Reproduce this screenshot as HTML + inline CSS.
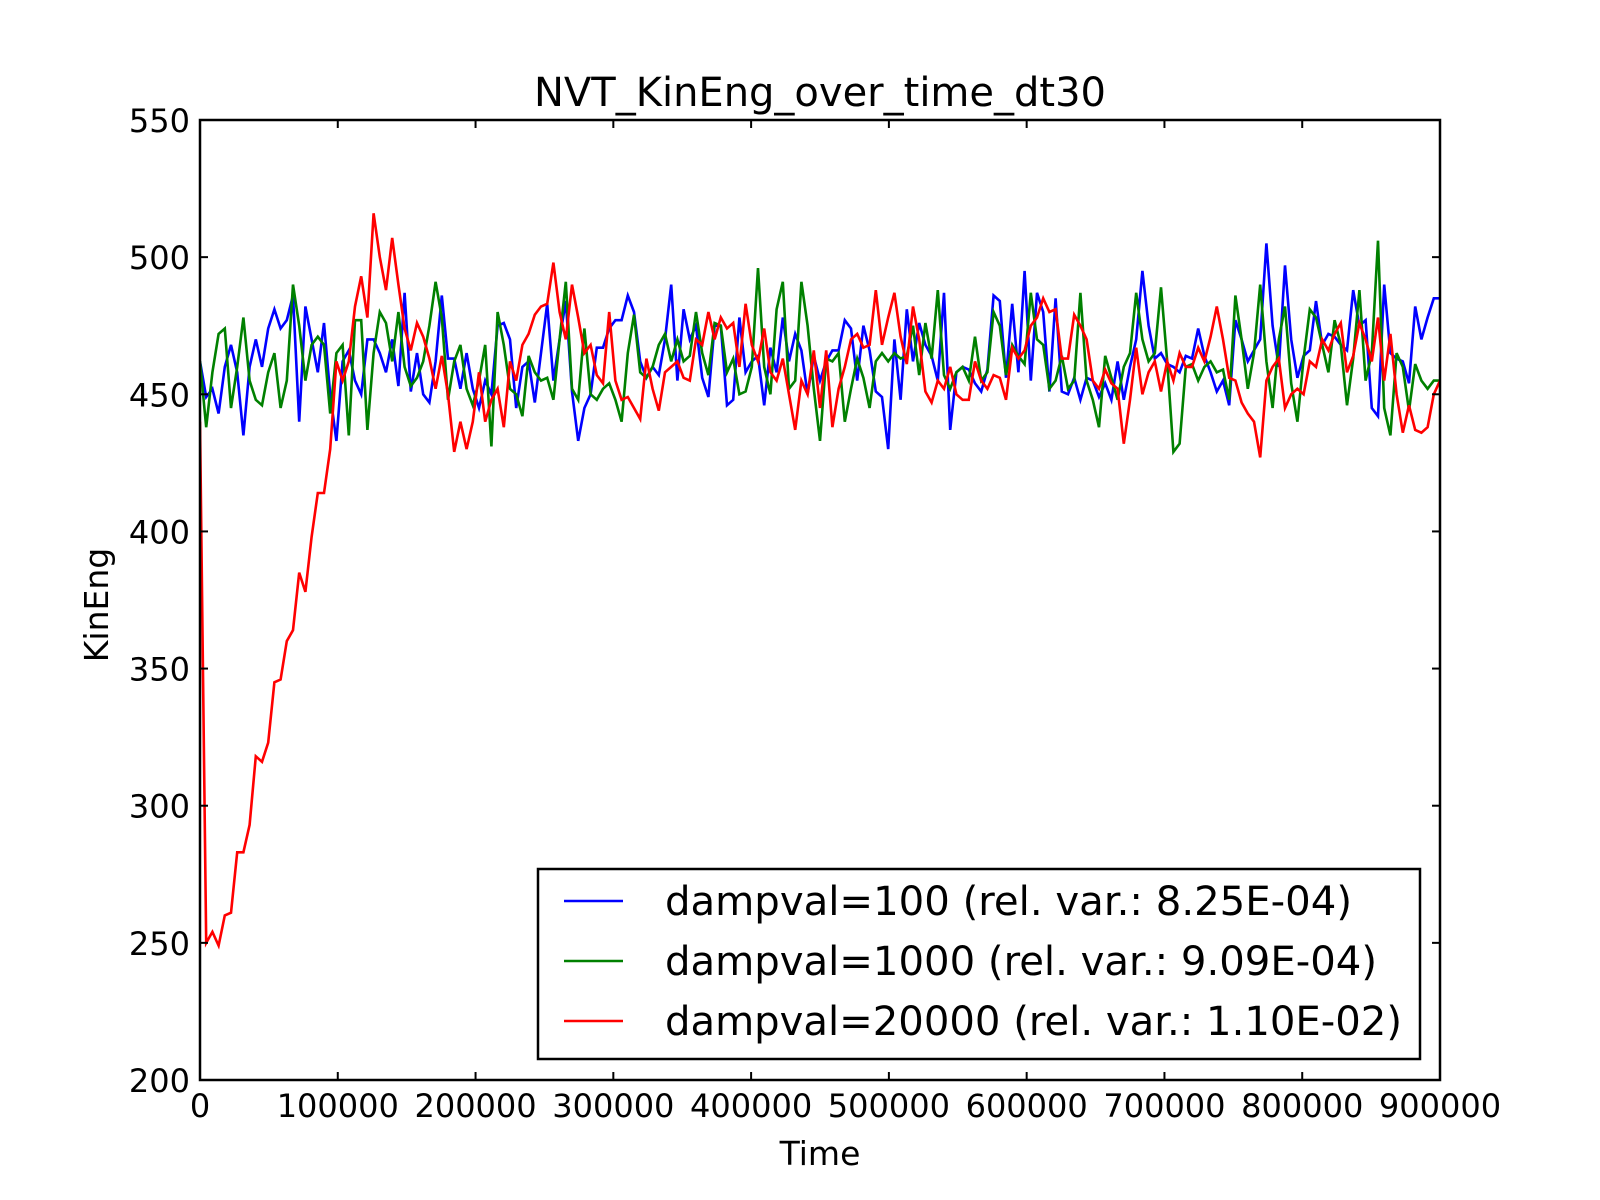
<!DOCTYPE html>
<html><head><meta charset="utf-8"><style>
html,body{margin:0;padding:0;background:#fff;}
svg{display:block;font-family:"DejaVu Sans","Liberation Sans",sans-serif;}
</style></head><body>
<svg id="chart" width="1600" height="1200" viewBox="0 0 1600 1200">
<rect x="0" y="0" width="1600" height="1200" fill="#fff"/>
<text x="820" y="106" font-size="40" text-anchor="middle">NVT_KinEng_over_time_dt30</text>
<g id="series" clip-path="url(#clip)"></g>
<defs><clipPath id="clip"><rect x="200" y="120" width="1240" height="960"/></clipPath></defs>
<g id="ticks"></g>
<rect x="200" y="120" width="1240" height="960" fill="none" stroke="#000" stroke-width="2.5"/>
<text x="820" y="1165" font-size="33" text-anchor="middle">Time</text>
<text x="0" y="0" font-size="33" text-anchor="middle" transform="translate(108,605) rotate(-90)">KinEng</text>
<g id="legend">
<rect x="538" y="869" width="882" height="190" fill="#fff" stroke="#000" stroke-width="2.5"/>
</g>
</svg>
<script>
const xTicks=[0,100000,200000,300000,400000,500000,600000,700000,800000,900000];
const yTicks=[200,250,300,350,400,450,500,550];
const step=4500;
const blue=[462,449,452,443,460,468,458,435,460,470,
460,474,481,474,477,486,440,482,470,458,
476,450,433,462,466,455,450,470,470,465,
458,470,453,487,451,465,450,447,462,486,
463,463,452,465,452,445,455,450,475,476,
470,445,460,462,447,465,483,455,470,484,
451,433,445,450,467,467,474,477,477,486,
480,462,456,460,457,470,490,455,481,470,
475,456,449,475,475,446,448,478,458,462,
464,446,467,458,478,462,472,466,450,464,
455,462,466,466,477,474,455,475,466,451,
449,430,470,448,481,462,476,468,464,455,
487,437,458,460,459,454,451,459,486,484,
456,483,458,495,455,487,480,451,485,451,
450,456,448,456,455,449,454,448,462,448,
460,470,495,475,463,465,461,460,458,464,
463,474,464,458,451,455,446,477,470,462,
466,470,505,475,460,497,470,456,464,466,
484,468,472,471,468,466,488,475,477,445,
442,490,465,463,462,454,482,470,478,485,485];
const green=[462,438,458,472,474,445,460,478,455,448,
446,458,465,445,455,490,475,455,468,471,
468,443,465,468,435,477,477,437,465,480,
476,462,480,460,453,456,462,475,491,478,
448,462,468,452,446,455,468,431,480,468,
452,450,442,464,458,455,456,448,470,491,
452,448,474,450,448,452,454,448,440,465,
479,458,456,460,468,472,462,470,462,464,
480,465,457,476,475,458,463,450,451,460,
496,460,450,481,491,452,455,491,475,452,
433,463,462,465,440,452,463,456,445,462,
465,462,465,463,464,475,457,476,463,488,
457,452,458,460,455,471,455,458,480,475,
457,468,464,461,487,470,468,452,455,464,
452,455,487,455,448,438,464,456,448,460,
465,487,470,462,465,489,462,429,432,460,
461,455,460,462,458,459,448,486,470,452,
465,490,462,445,470,482,454,440,463,481,
478,468,458,477,468,446,463,488,455,465,
506,445,435,465,460,444,461,455,452,455,455];
const red=[440,250,254,249,260,261,283,283,293,318,
316,323,345,346,360,364,385,378,398,414,
414,430,462,455,462,482,493,478,516,500,
488,507,490,474,466,476,471,463,452,464,
450,429,440,430,440,458,440,448,452,438,
462,455,468,472,479,482,483,498,480,470,
490,478,465,468,457,454,480,455,448,449,
445,441,463,452,444,458,460,462,456,455,
470,468,480,470,478,474,476,460,483,468,
462,474,458,455,463,450,437,455,450,466,
445,466,438,452,460,470,472,467,468,488,
468,478,487,471,461,482,470,451,447,455,
452,460,450,448,448,462,455,452,457,456,
448,467,463,466,475,478,485,480,481,463,
463,479,475,470,455,452,459,454,452,432,
448,467,450,458,462,451,462,455,465,460,
460,467,462,471,482,470,456,455,447,443,
440,427,455,460,463,445,450,452,450,462,
460,470,466,472,476,458,464,476,470,462,
478,455,472,450,436,446,437,436,438,450,455];
const legendLabels=["dampval=100 (rel. var.: 8.25E-04)","dampval=1000 (rel. var.: 9.09E-04)","dampval=20000 (rel. var.: 1.10E-02)"];
const legendWidths=[687,712,737];
const NS="http://www.w3.org/2000/svg";
function xs(t){return 200+t/900000*1240;}
function ys(v){return 1080-(v-200)/350*960;}
const sg=document.getElementById('series');
const seriesList=[[blue,'#0000ff','series-blue-line'],[green,'#008000','series-green-line'],[red,'#ff0000','series-red-line']];
seriesList.forEach(function(s){
  const p=document.createElementNS(NS,'polyline');
  p.setAttribute('points',s[0].map(function(v,i){return xs(i*step).toFixed(1)+','+ys(v).toFixed(1);}).join(' '));
  p.setAttribute('fill','none');p.setAttribute('stroke',s[1]);p.setAttribute('stroke-width','2.6');
  
  
  sg.appendChild(p);
});
const tg=document.getElementById('ticks');
xTicks.forEach(function(t){
  const x=xs(t);
  [[1080,1072],[120,128]].forEach(function(a){
    const l=document.createElementNS(NS,'line');
    l.setAttribute('x1',x);l.setAttribute('x2',x);l.setAttribute('y1',a[0]);l.setAttribute('y2',a[1]);
    l.setAttribute('stroke','#000');l.setAttribute('stroke-width','2');
    
    
    tg.appendChild(l);
  });
  const tx=document.createElementNS(NS,'text');
  tx.setAttribute('x',x);tx.setAttribute('y',1117);tx.setAttribute('font-size','32');tx.setAttribute('text-anchor','middle');
  tx.textContent=String(t);
  
  
  tg.appendChild(tx);
});
yTicks.forEach(function(v){
  const y=ys(v);
  [[200,208],[1440,1432]].forEach(function(a){
    const l=document.createElementNS(NS,'line');
    l.setAttribute('x1',a[0]);l.setAttribute('x2',a[1]);l.setAttribute('y1',y);l.setAttribute('y2',y);
    l.setAttribute('stroke','#000');l.setAttribute('stroke-width','2');
    
    
    tg.appendChild(l);
  });
  const tx=document.createElementNS(NS,'text');
  tx.setAttribute('x',190);tx.setAttribute('y',y+12);tx.setAttribute('font-size','32');tx.setAttribute('text-anchor','end');
  tx.textContent=String(v);
  
  
  tg.appendChild(tx);
});
const lg=document.getElementById('legend');
const colors=['#0000ff','#008000','#ff0000'];
legendLabels.forEach(function(lab,i){
  const y=901+i*60;
  const l=document.createElementNS(NS,'line');
  l.setAttribute('x1',564);l.setAttribute('x2',623);l.setAttribute('y1',y);l.setAttribute('y2',y);
  l.setAttribute('stroke',colors[i]);l.setAttribute('stroke-width','2.6');
  
  
  lg.appendChild(l);
  const tx=document.createElementNS(NS,'text');
  tx.setAttribute('x',665);tx.setAttribute('y',y+14);tx.setAttribute('font-size','40');
  tx.setAttribute('textLength',legendWidths[i]);tx.setAttribute('lengthAdjust','spacingAndGlyphs');
  tx.textContent=lab;
  
  
  lg.appendChild(tx);
});
</script>
</body></html>
